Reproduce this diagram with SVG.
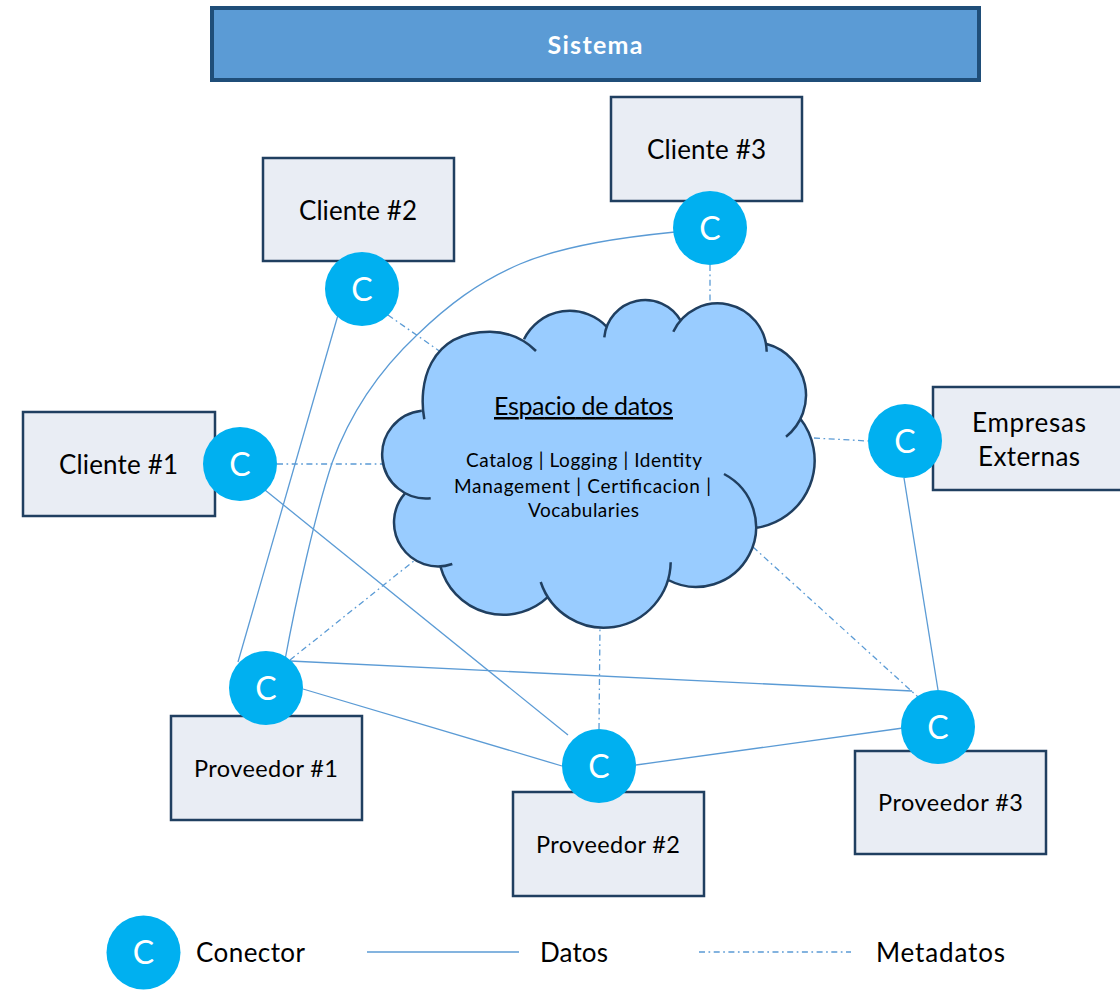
<svg xmlns="http://www.w3.org/2000/svg" width="1120" height="990" viewBox="0 0 1120 990">
<style>
text{font-family:"Lato","Open Sans","Liberation Sans",sans-serif;fill:#000;text-anchor:middle}
.box{fill:#e9edf4;stroke:#203f60;stroke-width:2.5}
.c{fill:#00b0f0}
.ct{fill:#fff;font-size:32px}
.l{font-size:26px}
.m{font-size:23.500px}
.n{font-size:25px}
.s{font-size:19px}
.d{fill:none;stroke:#5b9bd5;stroke-width:1.3}
.e{fill:none;stroke:#5b9bd5;stroke-width:1.3;stroke-dasharray:6 3.500 1.700 3.500}
</style>
<rect width="1120" height="990" fill="#fff"/>
<g id="connectors">
<path class="d" d="M238 662L338 315"/>
<path class="d" d="M285 660C296 600 315 515 332 463C352 408 385 365 417 335C447 306 478 282 520 264C565 245 625 237 675 232"/>
<path class="d" d="M265 490L568 735"/>
<path class="d" d="M290 661L912 691"/>
<path class="d" d="M303 689L562 766"/>
<path class="d" d="M636 765L903 728"/>
<path class="d" d="M904 478L938 690"/>
<path class="e" d="M388 315L445 355"/>
<path class="e" d="M710 265L710 306"/>
<path class="e" d="M277 464L388 464"/>
<path class="e" d="M814 438L868 441"/>
<path class="e" d="M290 660L415 560"/>
<path class="e" d="M599 729L600 625"/>
<path class="e" d="M753 547L918 697"/>
</g>
<g id="sistema"><rect x="212" y="8" width="767" height="72" fill="#5b9bd5" stroke="#1f4e79" stroke-width="4"/><text x="595" y="54" font-size="25" font-weight="700" style="fill:#fff" textLength="95">Sistema</text></g>
<g id="cloud">
<path fill="#99ccff" d="M424.3 419.3C418 385 428 332 490 331.700C510 332 525 340 536 351L524 339.300A51 51 0 0 1 607.3 327.3L604.3 337.3A41 41 0 0 1 680.7 320.7L673.3 331.7A49 49 0 0 1 766.7 351.7L766.7 344A53 53 0 0 1 786 436.7L800 418.3A68 68 0 0 1 756.7 527.7L724 474A59 59 0 1 1 668.3 580L670.7 562.3A66.7 66.7 0 0 1 540.7 582L548.3 596.7A65 65 0 0 1 440.7 567.3L452.3 564A44 44 0 0 1 405 493.3L430.7 498.3A44 44 0 0 1 421.7 410.7Z"/>
<path fill="none" stroke="#203f60" stroke-width="2.500" d="M424.3 419.3C418 385 428 332 490 331.700C510 332 525 340 536 351M524 339.3A51 51 0 0 1 607.3 327.3M604.3 337.3A41 41 0 0 1 680.7 320.7M673.3 331.7A49 49 0 0 1 766.7 351.7M766.7 344A53 53 0 0 1 786 436.7M800 418.3A68 68 0 0 1 756.7 527.7M724 474A59 59 0 1 1 668.3 580M670.7 562.3A66.7 66.7 0 0 1 540.7 582M548.3 596.7A65 65 0 0 1 440.7 567.3M452.3 564A44 44 0 0 1 405 493.3M430.7 498.3A44 44 0 0 1 421.7 410.7"/>
<text class="n" x="583.5" y="415" text-decoration="underline" textLength="179">Espacio de datos</text>
<text class="s" x="584" y="467" textLength="236">Catalog | Logging | Identity</text>
<text class="s" x="582.5" y="493" textLength="257">Management | Certificacion |</text>
<text class="s" x="583.5" y="517" textLength="111">Vocabularies</text>
</g>
<g id="cliente3"><rect class="box" x="611" y="97" width="191" height="104"/><text class="l" x="706.5" y="159" textLength="119">Cliente #3</text></g>
<g id="cliente2"><rect class="box" x="263" y="158" width="191" height="103"/><text class="l" x="358" y="220" textLength="118">Cliente #2</text></g>
<g id="cliente1"><rect class="box" x="23" y="412" width="192" height="104"/><text class="l" x="118.5" y="474" textLength="119">Cliente #1</text></g>
<g id="empresas"><rect class="box" x="933" y="387" width="192" height="103"/><text class="l" x="1029" y="432" textLength="114">Empresas</text><text class="l" x="1029" y="466" textLength="102">Externas</text></g>
<g id="proveedor1"><rect class="box" x="171" y="716" width="191" height="104"/><text class="m" x="266" y="777" textLength="144">Proveedor #1</text></g>
<g id="proveedor2"><rect class="box" x="513" y="792" width="191" height="104"/><text class="m" x="608" y="853" textLength="144">Proveedor #2</text></g>
<g id="proveedor3"><rect class="box" x="855" y="751" width="191" height="103"/><text class="m" x="950.5" y="811" textLength="145">Proveedor #3</text></g>
<g id="conector-c1"><circle class="c" cx="240" cy="464" r="37"/><text class="ct" x="240" y="476">C</text></g>
<g id="conector-c2"><circle class="c" cx="362" cy="289" r="37"/><text class="ct" x="362" y="301">C</text></g>
<g id="conector-c3"><circle class="c" cx="710" cy="228" r="37"/><text class="ct" x="710" y="240">C</text></g>
<g id="conector-e"><circle class="c" cx="905" cy="441" r="37"/><text class="ct" x="905" y="453">C</text></g>
<g id="conector-p1"><circle class="c" cx="266" cy="688" r="37"/><text class="ct" x="266" y="700">C</text></g>
<g id="conector-p2"><circle class="c" cx="599" cy="766" r="37"/><text class="ct" x="599" y="778">C</text></g>
<g id="conector-p3"><circle class="c" cx="938" cy="727" r="37"/><text class="ct" x="938" y="739">C</text></g>
<g id="legend">
<circle class="c" cx="143.500" cy="952.500" r="37"/><text class="ct" x="143.500" y="964">C</text>
<text class="l" x="250.500" y="962" textLength="109">Conector</text>
<path class="d" d="M367 952H519"/>
<text class="l" x="574" y="962" textLength="68">Datos</text>
<path class="e" d="M699 952H851"/>
<text class="l" x="940.500" y="962" textLength="129">Metadatos</text>
</g>
</svg>
